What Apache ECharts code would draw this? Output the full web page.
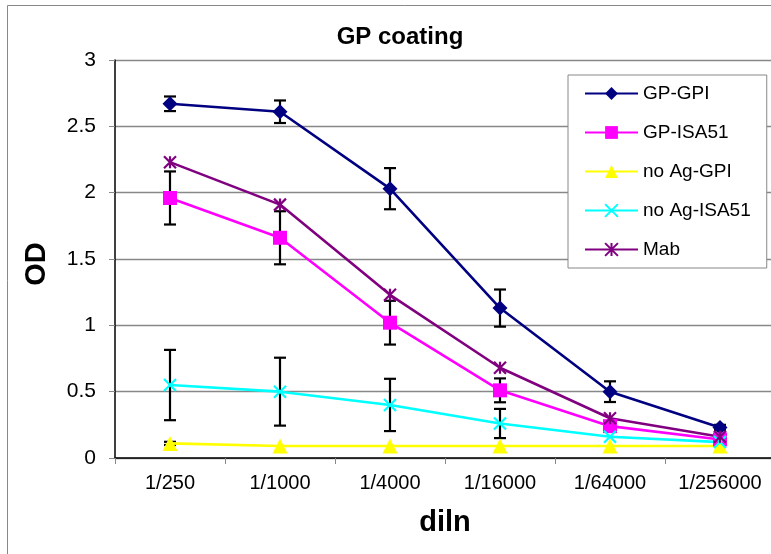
<!DOCTYPE html>
<html>
<head>
<meta charset="utf-8">
<style>
  html, body { margin: 0; padding: 0; background: #fff; overflow: hidden; }
  #chart { width: 800px; height: 554px; }
</style>
<script src="https://cdn.jsdelivr.net/npm/echarts@6/dist/echarts.min.js"></script>
</head>
<body>
<div id="chart"></div>
<script>
// Dilution steps on the x axis
const categories = ['1/250', '1/1000', '1/4000', '1/16000', '1/64000', '1/256000'];

// OD readings per coating / serum combination
const gpGpi   = [2.67, 2.61, 2.03, 1.13, 0.50, 0.23];
const gpIsa51 = [1.96, 1.66, 1.02, 0.51, 0.24, 0.14];
const noAgGpi = [0.11, 0.09, 0.09, 0.09, 0.09, 0.09];
const noAgIsa51 = [0.55, 0.50, 0.40, 0.26, 0.16, 0.12];
const mab     = [2.23, 1.91, 1.23, 0.68, 0.30, 0.16];

// Standard deviations (null = no error bar)
const gpGpiErr   = [0.055, 0.085, 0.155, 0.14, 0.078, 0.02];
const gpIsa51Err = [0.20, 0.20, 0.165, 0.09, null, null];
const noAgGpiErr = [0.012, null, null, null, null, null];
const noAgIsa51Err = [0.265, 0.256, 0.197, 0.11, null, null];

const yTicks = { min: 0, max: 3, interval: 0.5 };

const FONT = 'Liberation Sans, Arial, sans-serif';

function errorData(values, errs) {
  const out = [];
  values.forEach((v, i) => {
    if (errs[i] != null) out.push([i, v - errs[i], v + errs[i]]);
  });
  return out;
}

function renderErrorBar(params, api) {
  const x = api.value(0);
  const lo = api.coord([x, api.value(1)]);
  const hi = api.coord([x, api.value(2)]);
  const half = 6;
  const style = { stroke: '#000', lineWidth: 2.2 };
  return {
    type: 'group',
    children: [
      { type: 'line', shape: { x1: lo[0], y1: lo[1], x2: hi[0], y2: hi[1] }, style },
      { type: 'line', shape: { x1: hi[0] - half, y1: hi[1], x2: hi[0] + half, y2: hi[1] }, style },
      { type: 'line', shape: { x1: lo[0] - half, y1: lo[1], x2: lo[0] + half, y2: lo[1] }, style }
    ]
  };
}

function errorSeries(values, errs) {
  return {
    type: 'custom',
    renderItem: renderErrorBar,
    data: errorData(values, errs),
    encode: { x: 0, y: [1, 2] },
    z: 1,
    silent: true
  };
}

const crossPath = 'path://M0,0L10,10M10,0L0,10';
const starPath = 'path://M0,0L10,10M10,0L0,10M5,0L5,10';

function lineSeries(name, data, color, symbol, size, stroked) {
  return {
    name,
    type: 'line',
    data,
    symbol,
    symbolSize: size,
    showAllSymbol: true,
    z: 3,
    lineStyle: { color, width: 2.6 },
    itemStyle: stroked
      ? { color: color, borderColor: color, borderWidth: 2.2 }
      : { color: color, borderWidth: 0 },
    emphasis: { disabled: true }
  };
}

const chart = echarts.init(document.getElementById('chart'), null, { renderer: 'canvas' });

chart.setOption({
  animation: false,
  backgroundColor: '#fff',
  graphic: [{
    type: 'rect',
    shape: { x: 7.5, y: 5.5, width: 900, height: 700 },
    style: { fill: 'none', stroke: '#888', lineWidth: 1 },
    silent: true,
    z: -10
  }],
  title: {
    text: 'GP coating',
    left: 'center',
    top: 20,
    textStyle: { fontFamily: FONT, fontSize: 24, fontWeight: 'bold', color: '#000' }
  },
  legend: {
    orient: 'vertical',
    left: 568,
    top: 75,
    itemWidth: 53,
    itemHeight: 16,
    itemGap: 20,
    padding: [9, 16, 9, 16],
    borderColor: '#888',
    borderWidth: 1,
    backgroundColor: '#fff',
    textStyle: { fontFamily: FONT, fontSize: 19, color: '#000', padding: [0, 0, 0, 0] },
    data: ['GP-GPI', 'GP-ISA51', 'no Ag-GPI', 'no Ag-ISA51', 'Mab']
  },
  grid: { left: 115, right: 25, top: 60, bottom: 96 },
  xAxis: {
    type: 'category',
    data: categories,
    boundaryGap: true,
    name: 'diln',
    nameLocation: 'middle',
    nameGap: 50,
    nameTextStyle: { fontFamily: FONT, fontSize: 29, fontWeight: 'bold', color: '#000' },
    axisLine: { lineStyle: { color: '#000', width: 1.5 } },
    axisTick: { show: true, length: 6, inside: false, lineStyle: { color: '#888' } },
    axisLabel: { fontFamily: FONT, fontSize: 20, color: '#000', margin: 15 },
    splitLine: { show: false }
  },
  yAxis: {
    type: 'value',
    min: yTicks.min,
    max: yTicks.max,
    interval: yTicks.interval,
    name: 'OD',
    nameLocation: 'middle',
    nameGap: 64,
    nameTextStyle: { fontFamily: FONT, fontSize: 29, fontWeight: 'bold', color: '#000', padding: [0, 10, 0, 0] },
    axisLine: { show: true, lineStyle: { color: '#000', width: 1.5 } },
    axisTick: { show: true, length: 6, inside: false, lineStyle: { color: '#888' } },
    axisLabel: { fontFamily: FONT, fontSize: 21, color: '#000', margin: 19 },
    splitLine: { show: true, lineStyle: { color: '#888', width: 1.3 } }
  },
  series: [
    errorSeries(gpGpi, gpGpiErr),
    errorSeries(gpIsa51, gpIsa51Err),
    errorSeries(noAgGpi, noAgGpiErr),
    errorSeries(noAgIsa51, noAgIsa51Err),
    lineSeries('GP-GPI', gpGpi, '#000080', 'diamond', 15, false),
    lineSeries('GP-ISA51', gpIsa51, '#FF00FF', 'rect', 14, false),
    lineSeries('no Ag-GPI', noAgGpi, '#FFFF00', 'triangle', 15, false),
    lineSeries('no Ag-ISA51', noAgIsa51, '#00FFFF', crossPath, 12, true),
    lineSeries('Mab', mab, '#800080', starPath, 12, true)
  ]
});
</script>
</body>
</html>
